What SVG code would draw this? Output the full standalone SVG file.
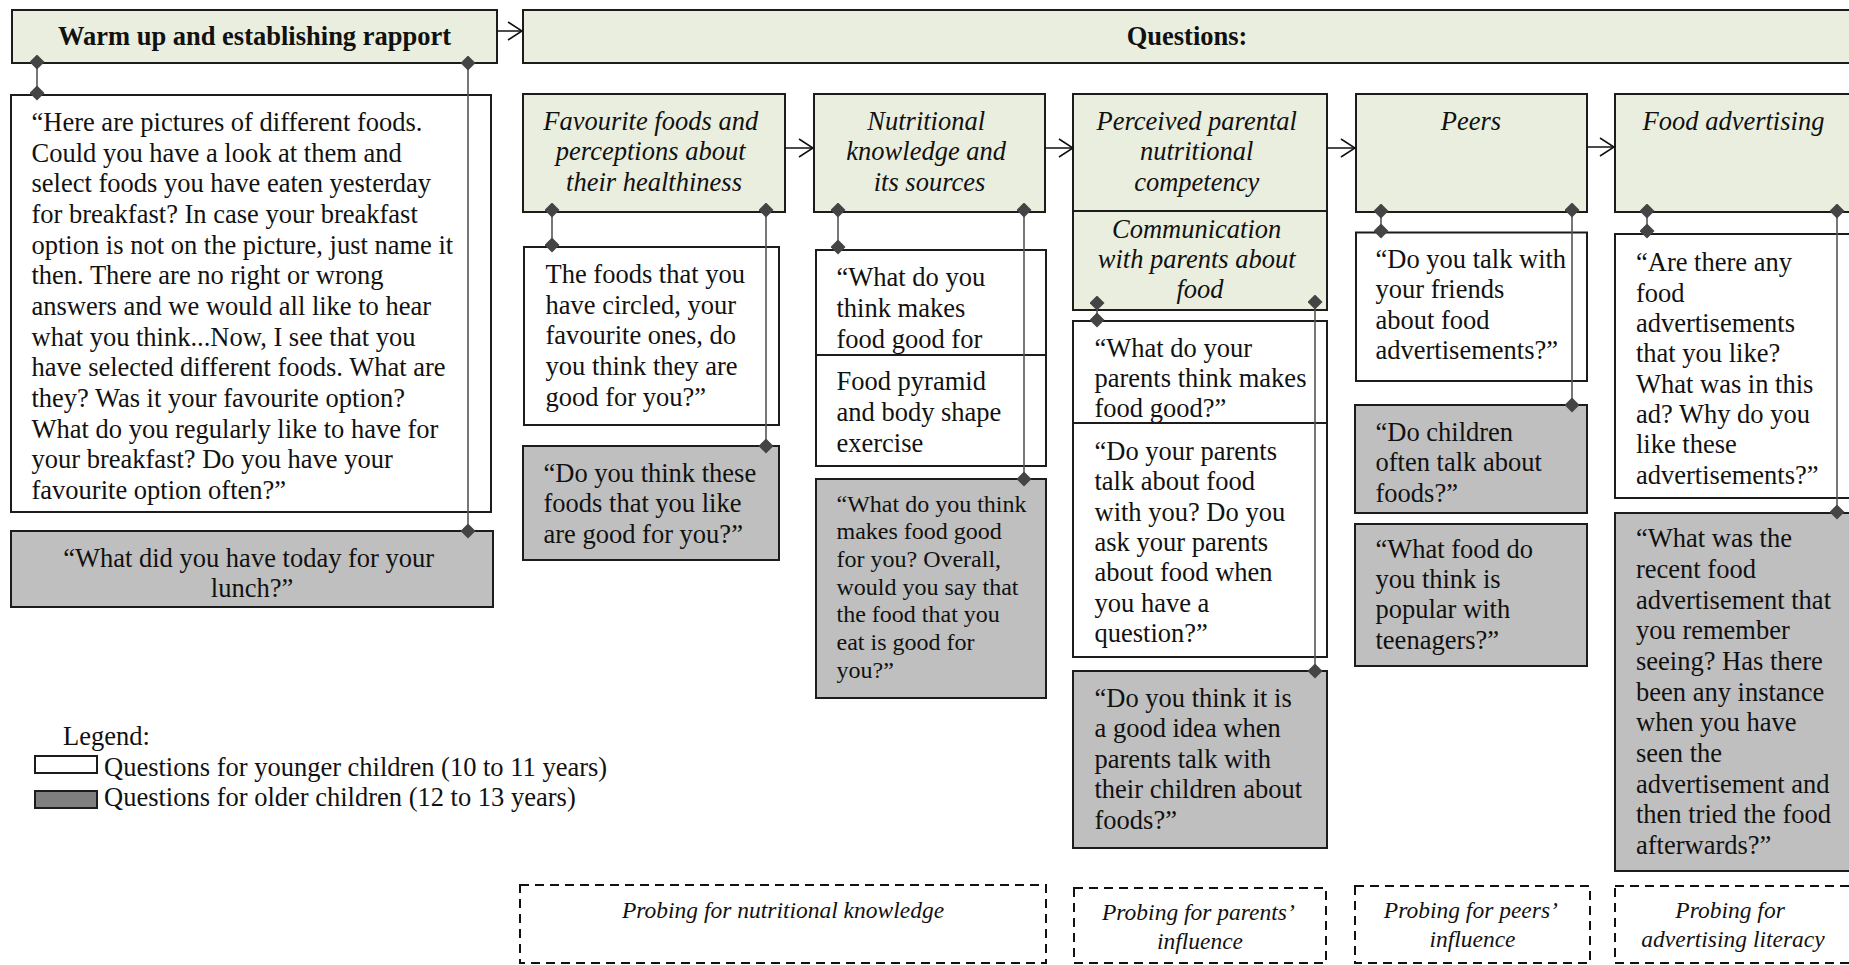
<svg xmlns="http://www.w3.org/2000/svg" width="1849" height="965" viewBox="0 0 1849 965">
  <style>
    .box { stroke: #1c1c1c; stroke-width: 2; }
    .hdr { fill: #EAEEDE; }
    .yng { fill: #ffffff; }
    .old { fill: #BFBFBF; }
    .t { font-family: "Liberation Serif", "Times New Roman", serif; font-size: 26.5px; fill: #111; }
    .ti { font-style: italic; }
    .tb { font-weight: bold; }
    .sm { font-size: 24px; }
    .pr { font-size: 23.5px; }
    .mid { text-anchor: middle; }
    .probe { fill: none; stroke: #111; stroke-width: 2; stroke-dasharray: 9 6; }
    .conn { stroke: #555; stroke-width: 1.6; fill: none; }
    .flow { stroke: #111; stroke-width: 1.5; fill: none; }
  </style>
  <defs>
    <marker id="dia" viewBox="0 0 14 14" refX="7" refY="7" markerWidth="15" markerHeight="15" markerUnits="userSpaceOnUse" orient="auto">
      <path d="M7,0 L14,7 L7,14 L0,7 Z" fill="#444"/>
    </marker>
    <marker id="chev" viewBox="0 0 16 20" refX="15" refY="10" markerWidth="16" markerHeight="20" markerUnits="userSpaceOnUse" orient="auto">
      <path d="M1,1 L15,10 L1,19" fill="none" stroke="#111" stroke-width="1.5"/>
    </marker>
  </defs>
  <rect width="1849" height="965" fill="#ffffff"/>

  <!-- warm up stage -->
  <g id="warmup">
    <rect class="box hdr" x="12" y="10" width="485" height="53"/>
    <text class="t tb mid" x="254.5" y="45">Warm up and establishing rapport</text>
  </g>
  <g id="warmup-young">
    <rect class="box yng" x="11" y="95" width="480" height="417"/>
    <text class="t">
      <tspan x="31.5" y="131">“Here are pictures of different foods.</tspan>
      <tspan x="31.5" y="161.7">Could you have a look at them and</tspan>
      <tspan x="31.5" y="192.3">select foods you have eaten yesterday</tspan>
      <tspan x="31.5" y="223">for breakfast? In case your breakfast</tspan>
      <tspan x="31.5" y="253.6">option is not on the picture, just name it</tspan>
      <tspan x="31.5" y="284.3">then. There are no right or wrong</tspan>
      <tspan x="31.5" y="315">answers and we would all like to hear</tspan>
      <tspan x="31.5" y="345.6">what you think...Now, I see that you</tspan>
      <tspan x="31.5" y="376.3">have selected different foods. What are</tspan>
      <tspan x="31.5" y="406.9">they? Was it your favourite option?</tspan>
      <tspan x="31.5" y="437.6">What do you regularly like to have for</tspan>
      <tspan x="31.5" y="468.3">your breakfast? Do you have your</tspan>
      <tspan x="31.5" y="498.9">favourite option often?”</tspan>
    </text>
  </g>
  <g id="warmup-old">
    <rect class="box old" x="11" y="531" width="482" height="76"/>
    <text class="t mid">
      <tspan x="252" y="566.5">“What did you have today for your</tspan>
      <tspan x="252" y="596.5">lunch?”</tspan>
    </text>
  </g>

  <!-- questions banner -->
  <g id="questions">
    <rect class="box hdr" x="523" y="10" width="1328" height="53"/>
    <text class="t tb mid" x="1187" y="45">Questions:</text>
  </g>

  <!-- topic 1 -->
  <g id="favourite">
    <rect class="box hdr" x="523" y="94" width="262" height="118"/>
    <text class="t ti mid">
      <tspan x="654" y="129.5">Favourite foods and</tspan>
      <tspan x="654" y="160">perceptions about</tspan>
      <tspan x="654" y="190.5">their healthiness</tspan>
    </text>
  </g>
  <g id="favourite-young">
    <rect class="box yng" x="524" y="247" width="255" height="178"/>
    <text class="t">
      <tspan x="545.5" y="283">The foods that you</tspan>
      <tspan x="545.5" y="313.6">have circled, your</tspan>
      <tspan x="545.5" y="344.3">favourite ones, do</tspan>
      <tspan x="545.5" y="374.9">you think they are</tspan>
      <tspan x="545.5" y="405.6">good for you?”</tspan>
    </text>
  </g>
  <g id="favourite-old">
    <rect class="box old" x="523" y="446" width="256" height="114"/>
    <text class="t">
      <tspan x="543.5" y="481.5">“Do you think these</tspan>
      <tspan x="543.5" y="512">foods that you like</tspan>
      <tspan x="543.5" y="542.5">are good for you?”</tspan>
    </text>
  </g>

  <!-- topic 2 -->
  <g id="knowledge">
    <rect class="box hdr" x="814" y="94" width="231" height="118"/>
    <text class="t ti mid">
      <tspan x="929.5" y="129.5">Nutritional</tspan>
      <tspan x="929.5" y="160">knowledge and</tspan>
      <tspan x="929.5" y="190.5">its sources</tspan>
    </text>
  </g>
  <g id="knowledge-young-a">
    <rect class="box yng" x="816" y="250" width="230" height="105"/>
    <text class="t">
      <tspan x="836.5" y="286.3">“What do you</tspan>
      <tspan x="836.5" y="317">think makes</tspan>
      <tspan x="836.5" y="347.6">food good for</tspan>
    </text>
  </g>
  <g id="knowledge-young-b">
    <rect class="box yng" x="816" y="355" width="230" height="111"/>
    <text class="t">
      <tspan x="836.5" y="390">Food pyramid</tspan>
      <tspan x="836.5" y="421">and body shape</tspan>
      <tspan x="836.5" y="452">exercise</tspan>
    </text>
  </g>
  <g id="knowledge-old">
    <rect class="box old" x="816" y="479" width="230" height="219"/>
    <text class="t sm">
      <tspan x="836.5" y="511.5">“What do you think</tspan>
      <tspan x="836.5" y="539.2">makes food good</tspan>
      <tspan x="836.5" y="566.9">for you? Overall,</tspan>
      <tspan x="836.5" y="594.6">would you say that</tspan>
      <tspan x="836.5" y="622.3">the food that you</tspan>
      <tspan x="836.5" y="650">eat is good for</tspan>
      <tspan x="836.5" y="677.7">you?”</tspan>
    </text>
  </g>

  <!-- topic 3 -->
  <g id="parents">
    <rect class="box hdr" x="1073" y="94" width="254" height="117"/>
    <rect class="box hdr" x="1073" y="211" width="254" height="99"/>
    <text class="t ti mid">
      <tspan x="1200" y="129.5">Perceived parental</tspan>
      <tspan x="1200" y="160">nutritional</tspan>
      <tspan x="1200" y="190.5">competency</tspan>
      <tspan x="1200" y="237.5">Communication</tspan>
      <tspan x="1200" y="267.5">with parents about</tspan>
      <tspan x="1200" y="297.5">food</tspan>
    </text>
  </g>
  <g id="parents-young-a">
    <rect class="box yng" x="1073" y="321" width="254" height="102"/>
    <text class="t">
      <tspan x="1094.5" y="357">“What do your</tspan>
      <tspan x="1094.5" y="387">parents think makes</tspan>
      <tspan x="1094.5" y="417">food good?”</tspan>
    </text>
  </g>
  <g id="parents-young-b">
    <rect class="box yng" x="1073" y="423" width="254" height="234"/>
    <text class="t">
      <tspan x="1094.5" y="459.8">“Do your parents</tspan>
      <tspan x="1094.5" y="490.1">talk about food</tspan>
      <tspan x="1094.5" y="520.5">with you? Do you</tspan>
      <tspan x="1094.5" y="550.8">ask your parents</tspan>
      <tspan x="1094.5" y="581.1">about food when</tspan>
      <tspan x="1094.5" y="611.5">you have a</tspan>
      <tspan x="1094.5" y="641.8">question?”</tspan>
    </text>
  </g>
  <g id="parents-old">
    <rect class="box old" x="1073" y="671" width="254" height="177"/>
    <text class="t">
      <tspan x="1094.5" y="707">“Do you think it is</tspan>
      <tspan x="1094.5" y="737.4">a good idea when</tspan>
      <tspan x="1094.5" y="767.8">parents talk with</tspan>
      <tspan x="1094.5" y="798.2">their children about</tspan>
      <tspan x="1094.5" y="828.6">foods?”</tspan>
    </text>
  </g>

  <!-- topic 4 -->
  <g id="peers">
    <rect class="box hdr" x="1356" y="94" width="231" height="118"/>
    <text class="t ti mid" x="1471" y="129.5">Peers</text>
  </g>
  <g id="peers-young">
    <rect class="box yng" x="1356" y="232.5" width="231" height="148.5"/>
    <text class="t">
      <tspan x="1375.5" y="268">“Do you talk with</tspan>
      <tspan x="1375.5" y="298.4">your friends</tspan>
      <tspan x="1375.5" y="328.7">about food</tspan>
      <tspan x="1375.5" y="359">advertisements?”</tspan>
    </text>
  </g>
  <g id="peers-old-a">
    <rect class="box old" x="1355" y="405" width="232" height="108"/>
    <text class="t">
      <tspan x="1375.5" y="441">“Do children</tspan>
      <tspan x="1375.5" y="471.3">often talk about</tspan>
      <tspan x="1375.5" y="501.6">foods?”</tspan>
    </text>
  </g>
  <g id="peers-old-b">
    <rect class="box old" x="1355" y="524" width="232" height="142"/>
    <text class="t">
      <tspan x="1375.5" y="557.7">“What food do</tspan>
      <tspan x="1375.5" y="588">you think is</tspan>
      <tspan x="1375.5" y="618.3">popular with</tspan>
      <tspan x="1375.5" y="648.6">teenagers?”</tspan>
    </text>
  </g>

  <!-- topic 5 -->
  <g id="advertising">
    <rect class="box hdr" x="1615" y="94" width="236" height="118"/>
    <text class="t ti mid" x="1733.5" y="129.5">Food advertising</text>
  </g>
  <g id="advertising-young">
    <rect class="box yng" x="1615" y="234" width="236" height="264"/>
    <text class="t">
      <tspan x="1636" y="271.3">“Are there any</tspan>
      <tspan x="1636" y="301.6">food</tspan>
      <tspan x="1636" y="332">advertisements</tspan>
      <tspan x="1636" y="362.3">that you like?</tspan>
      <tspan x="1636" y="392.6">What was in this</tspan>
      <tspan x="1636" y="423">ad? Why do you</tspan>
      <tspan x="1636" y="453.3">like these</tspan>
      <tspan x="1636" y="483.6">advertisements?”</tspan>
    </text>
  </g>
  <g id="advertising-old">
    <rect class="box old" x="1615" y="513" width="236" height="358"/>
    <text class="t">
      <tspan x="1636" y="547.2">“What was the</tspan>
      <tspan x="1636" y="577.9">recent food</tspan>
      <tspan x="1636" y="608.5">advertisement that</tspan>
      <tspan x="1636" y="639.2">you remember</tspan>
      <tspan x="1636" y="669.8">seeing? Has there</tspan>
      <tspan x="1636" y="700.5">been any instance</tspan>
      <tspan x="1636" y="731.2">when you have</tspan>
      <tspan x="1636" y="761.8">seen the</tspan>
      <tspan x="1636" y="792.5">advertisement and</tspan>
      <tspan x="1636" y="823.1">then tried the food</tspan>
      <tspan x="1636" y="853.8">afterwards?”</tspan>
    </text>
  </g>

  <!-- probing notes -->
  <g id="probe-knowledge">
    <rect class="probe" x="520" y="885" width="526" height="78"/>
    <text class="t ti pr mid" x="783" y="918">Probing for nutritional knowledge</text>
  </g>
  <g id="probe-parents">
    <rect class="probe" x="1074" y="888" width="252" height="75"/>
    <text class="t ti pr mid">
      <tspan x="1200" y="920">Probing for parents’</tspan>
      <tspan x="1200" y="948.5">influence</tspan>
    </text>
  </g>
  <g id="probe-peers">
    <rect class="probe" x="1355" y="886" width="235" height="77"/>
    <text class="t ti pr mid">
      <tspan x="1472.5" y="918">Probing for peers’</tspan>
      <tspan x="1472.5" y="946.5">influence</tspan>
    </text>
  </g>
  <g id="probe-advertising">
    <rect class="probe" x="1615" y="886" width="236" height="77"/>
    <text class="t ti pr mid">
      <tspan x="1733" y="918">Probing for</tspan>
      <tspan x="1733" y="946.5">advertising literacy</tspan>
    </text>
  </g>

  <!-- legend -->
  <g id="legend">
    <text class="t" x="63" y="745">Legend:</text>
    <rect x="35" y="756" width="62" height="17" fill="#fff" stroke="#1c1c1c" stroke-width="2"/>
    <text class="t" x="104" y="775.5">Questions for younger children (10 to 11 years)</text>
    <rect x="35" y="791" width="62" height="17" fill="#7F7F7F" stroke="#1c1c1c" stroke-width="2"/>
    <text class="t" x="104" y="806">Questions for older children (12 to 13 years)</text>
  </g>

  <!-- connectors -->
  <g id="connectors">
    <g class="flow" marker-end="url(#chev)">
      <line x1="497" y1="31" x2="522" y2="31"/>
      <line x1="785" y1="148" x2="813" y2="148"/>
      <line x1="1045" y1="148" x2="1073" y2="148"/>
      <line x1="1327" y1="148" x2="1355" y2="148"/>
      <line x1="1587" y1="147" x2="1614" y2="147"/>
    </g>
    <g class="conn" marker-start="url(#dia)" marker-end="url(#dia)">
      <line x1="37" y1="62" x2="37" y2="93"/>
      <line x1="468" y1="63" x2="468" y2="531"/>
      <line x1="552" y1="210" x2="552" y2="245"/>
      <line x1="766" y1="210" x2="766" y2="446"/>
      <line x1="838" y1="210" x2="838" y2="247"/>
      <line x1="1024" y1="210" x2="1024" y2="479"/>
      <line x1="1097" y1="303" x2="1097" y2="320"/>
      <line x1="1315" y1="302" x2="1315" y2="671"/>
      <line x1="1381" y1="211" x2="1381" y2="231"/>
      <line x1="1572" y1="210" x2="1572" y2="405"/>
      <line x1="1647" y1="211" x2="1647" y2="231"/>
      <line x1="1837" y1="211" x2="1837" y2="512"/>
    </g>
  </g>
</svg>
